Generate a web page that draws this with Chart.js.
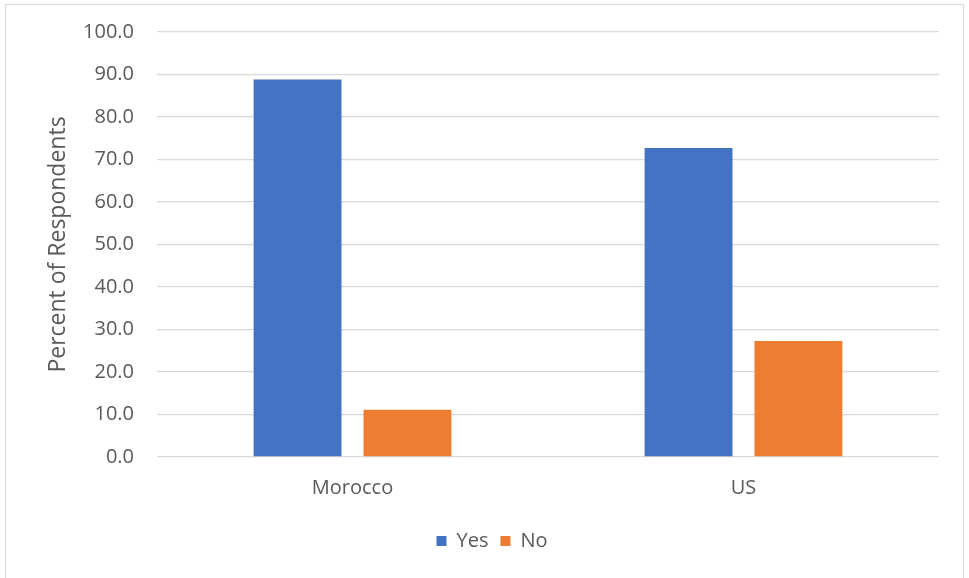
<!DOCTYPE html>
<html>
<head>
<meta charset="utf-8">
<script src="https://cdn.jsdelivr.net/npm/chart.js@4.4.1/dist/chart.umd.min.js"></script>
<style>
    html, body { margin: 0; padding: 0; background: #fff; }
    #wrap { position: relative; width: 969px; height: 578px; }
    #frame { position: absolute; left: 5px; top: 4px; width: 959px; height: 580px; border: 1px solid #d9d9d9; box-sizing: border-box; }
    #chart { position: absolute; left: 0; top: 0; }
</style>
</head>
<body>
<div id="wrap">
    <div id="frame"></div>
    <canvas id="chart" width="969" height="578"></canvas>
</div>
<script>
// du lieu doc tu hinh
var countries = ['Morocco', 'US'];
var yesValues = [88.8, 72.7];
var noValues = [11.1, 27.3];
var seriesNames = ['Yes', 'No'];
var yTicks = [0, 10, 20, 30, 40, 50, 60, 70, 80, 90, 100];

var textColor = '#595959';
var fontFamily = '"Open Sans", "Noto Sans", sans-serif';

Chart.defaults.font.family = fontFamily;
Chart.defaults.color = textColor;

var ctx = document.getElementById('chart');
new Chart(ctx, {
    type: 'bar',
    data: {
        labels: countries,
        datasets: [
            { label: seriesNames[0], data: yesValues, backgroundColor: '#4472C4' },
            { label: seriesNames[1], data: noValues, backgroundColor: '#ED7D31' }
        ]
    },
    options: {
        responsive: false,
        animation: false,
        categoryPercentage: 0.562,
        barPercentage: 0.8,
        layout: { padding: { left: 45, right: 30, top: 32, bottom: 17 } },
        plugins: {
            tooltip: { enabled: false },
            legend: {
                position: 'bottom',
                labels: {
                    boxWidth: 10,
                    boxHeight: 10,
                    padding: 12,
                    color: textColor,
                    font: { size: 20 }
                }
            }
        },
        scales: {
            x: {
                grid: { display: false },
                border: { display: false },
                ticks: { padding: 11, font: { size: 20 }, color: textColor },
                afterFit: function (scale) { scale.height = 62; }
            },
            y: {
                min: 0,
                max: 100,
                afterBuildTicks: function (scale) {
                    scale.ticks = yTicks.map(function (v) { return { value: v }; });
                },
                grid: { color: '#d9d9d9', lineWidth: 1.3, drawTicks: false },
                border: { display: false },
                ticks: {
                    padding: 23,
                    font: { size: 20 },
                    color: textColor,
                    callback: function (v) { return Number(v).toFixed(1); }
                },
                title: {
                    display: true,
                    text: 'Percent of Respondents',
                    color: textColor,
                    font: { size: 23 },
                    padding: { top: 0, bottom: 0 }
                },
                afterFit: function (scale) {
                    scale.width = 112;
                    // bo padding tu dong de vung ve bat dau dung cho
                    scale.paddingTop = 0;
                    scale.paddingBottom = 0;
                }
            }
        }
    }
});
</script>
</body>
</html>
